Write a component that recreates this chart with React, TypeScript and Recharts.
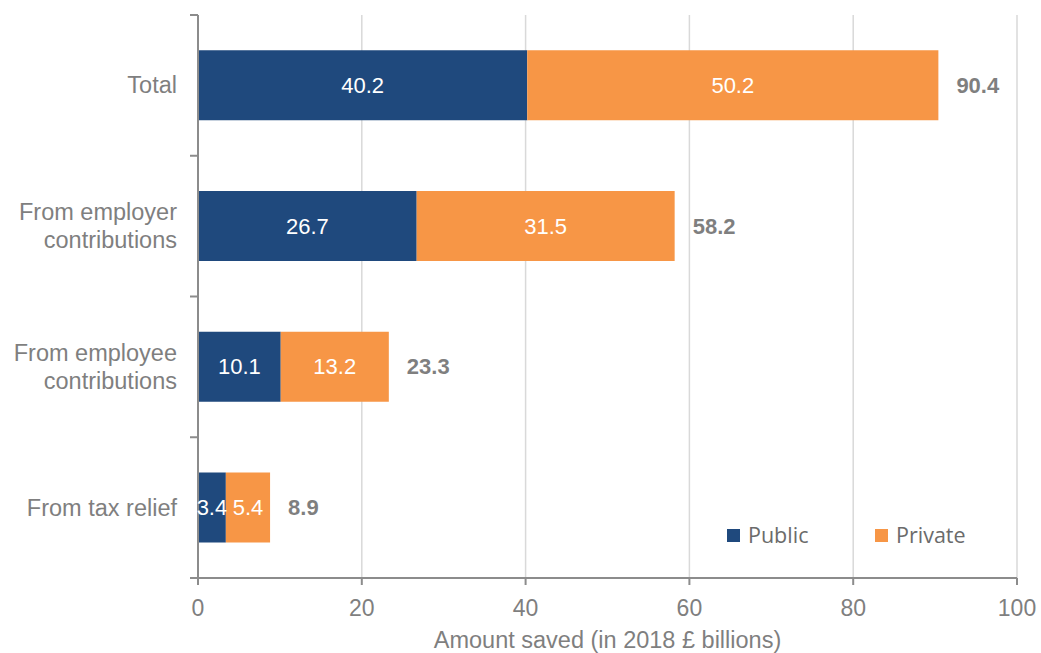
import React from 'react';
import { BarChart, Bar, XAxis, YAxis, CartesianGrid, LabelList, Legend } from 'recharts';

const categories = ['Total', 'From employer\ncontributions', 'From employee\ncontributions', 'From tax relief'];
const publicValues = [40.2, 26.7, 10.1, 3.4];
const privateValues = [50.2, 31.5, 13.2, 5.4];
const totalValues = [90.4, 58.2, 23.3, 8.9];
const xTicks = [0, 20, 40, 60, 80, 100];
const seriesOrder = ['Public', 'Private'];

const data = categories.map((name, i) => ({
  name,
  public: publicValues[i],
  private: privateValues[i],
  total: totalValues[i],
}));

const AXIS = '#8c8c8c';
const TEXT = '#7f7f7f';
const FONT = '"Liberation Sans", Arial, sans-serif';
const TICK_SIZE = 8;
const TICK_MARGIN = 13;

const CategoryTick = (props: any) => {
  const { x, y, payload, index, visibleTicksCount } = props;
  const lines = String(payload.value).split('\n');
  const off = payload.offset != null ? payload.offset : 70.4;
  const axisX = x + TICK_SIZE + TICK_MARGIN;
  const lh = 28;
  const startY = y - ((lines.length - 1) * lh) / 2;
  return (
    <g>
      <line x1={axisX - TICK_SIZE} x2={axisX} y1={y - off} y2={y - off} stroke={AXIS} strokeWidth={2} />
      {index === visibleTicksCount - 1 && (
        <line x1={axisX - TICK_SIZE} x2={axisX} y1={y + off} y2={y + off} stroke={AXIS} strokeWidth={2} />
      )}
      {lines.map((l, i) => (
        <text
          key={i}
          x={x}
          y={startY + i * lh}
          textAnchor="end"
          dominantBaseline="central"
          fill={TEXT}
          fontSize={23.5}
          fontFamily={FONT}
        >
          {l}
        </text>
      ))}
    </g>
  );
};

const LegendContent = (props: any) => {
  const items = [...(props.payload || [])].sort(
    (a: any, b: any) => seriesOrder.indexOf(a.value) - seriesOrder.indexOf(b.value)
  );
  return (
    <div style={{ display: 'flex', alignItems: 'center' }}>
      {items.map((p: any, i: number) => (
        <div key={i} style={{ display: 'flex', alignItems: 'center', width: 148 }}>
          <div style={{ width: 13, height: 13, background: p.color, marginRight: 8 }} />
          <span style={{ fontFamily: '"Open Sans", sans-serif', fontSize: 21.5, color: '#6b6b6b', lineHeight: '28px' }}>
            {p.value}
          </span>
        </div>
      ))}
    </div>
  );
};

export default function App() {
  return (
    <div style={{ position: 'absolute', left: 0, top: 0, background: '#fff' }}>
      <BarChart
        width={1041}
        height={653}
        data={data}
        layout="vertical"
        margin={{ top: 15, right: 24, left: 0, bottom: 0 }}
        barCategoryGap="25%"
      >
        <CartesianGrid horizontal={false} vertical={true} stroke="#d9d9d9" strokeWidth={1.5} />
        <XAxis
          type="number"
          domain={[0, 100]}
          ticks={xTicks}
          height={75}
          axisLine={{ stroke: AXIS, strokeWidth: 2 }}
          tickLine={{ stroke: AXIS, strokeWidth: 2 }}
          tickSize={7}
          tickMargin={15}
          tick={{ fill: TEXT, fontSize: 23, fontFamily: FONT }}
          label={{
            value: 'Amount saved (in 2018 £ billions)',
            position: 'insideBottom',
            offset: 5,
            fill: TEXT,
            fontSize: 23.5,
            fontFamily: FONT,
          }}
        />
        <YAxis
          type="category"
          dataKey="name"
          width={198}
          axisLine={{ stroke: AXIS, strokeWidth: 2 }}
          tickLine={false}
          tickSize={TICK_SIZE}
          tickMargin={TICK_MARGIN}
          tick={<CategoryTick />}
          interval={0}
        />
        <Legend
          layout="horizontal"
          verticalAlign="middle"
          align="center"
          content={<LegendContent />}
          wrapperStyle={{ left: 727, top: 521, width: 300, height: 28 }}
        />
        <Bar dataKey="public" name="Public" stackId="a" fill="#1f497d" isAnimationActive={false}>
          <LabelList dataKey="public" position="center" fill="#ffffff" fontSize={22} fontFamily={FONT} />
        </Bar>
        <Bar dataKey="private" name="Private" stackId="a" fill="#f79646" isAnimationActive={false}>
          <LabelList dataKey="private" position="center" fill="#ffffff" fontSize={22} fontFamily={FONT} />
          <LabelList
            dataKey="total"
            position="right"
            offset={18}
            fill={TEXT}
            fontSize={22}
            fontWeight="bold"
            fontFamily={FONT}
          />
        </Bar>
      </BarChart>
    </div>
  );
}
